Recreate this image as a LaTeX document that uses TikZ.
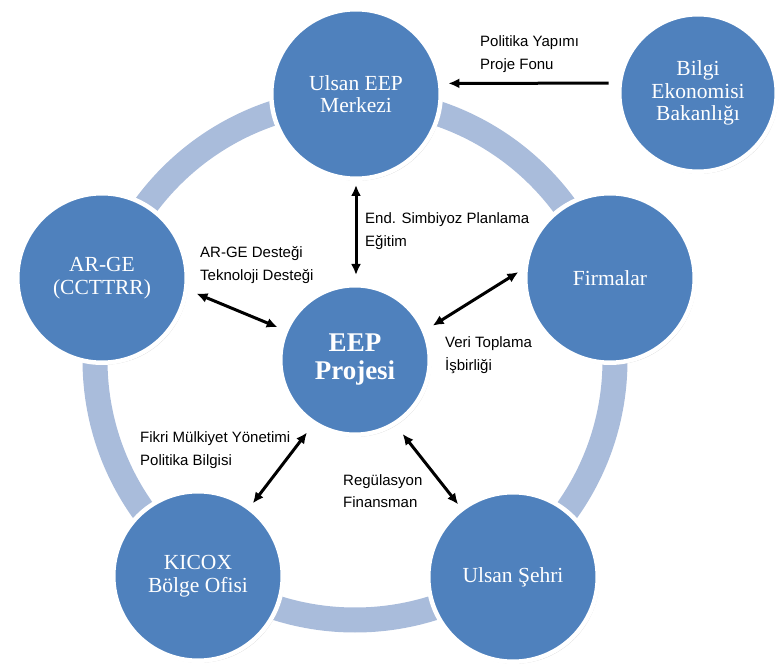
\documentclass[tikz,border=0pt]{standalone}
\usepackage{fontspec}
\setmainfont{Liberation Serif}
\newfontfamily\labelfont{Liberation Sans}
\usetikzlibrary{arrows.meta}
\usetikzlibrary{shadows}

\definecolor{nodeblue}{HTML}{4F81BD}
\definecolor{ringblue}{HTML}{A9BCDB}

\begin{document}
\begin{tikzpicture}[x=1pt,y=-1pt,
    unit/.style={circle,fill=nodeblue,draw=white,line width=4.5pt,minimum size=169.5pt,
      inner sep=0pt,align=center,text=white,font=\fontsize{21.5}{22.5}\selectfont,
      drop shadow={shadow xshift=1.5pt,shadow yshift=-2pt,opacity=0.35}},
    link/.style={{Latex[length=11pt,width=10pt]}-{Latex[length=11pt,width=10pt]},line width=3pt},
    flow/.style={-{Latex[length=11pt,width=10pt]},line width=3pt},
    note/.style={anchor=west,align=left,inner sep=0pt,font=\labelfont\fontsize{15}{22.5}\selectfont}]
    \useasboundingbox (0,0) rectangle (780,668);

    % 绘制圆环
    \draw[ringblue,line width=25pt] (355,360) circle (260);

    % 各单位
    \node[unit] (merkez) at (356,94) {Ulsan EEP\\Merkezi};
    \node[unit,minimum size=157.5pt] (bilgi) at (698,93) {Bilgi\\Ekonomisi\\Bakanlığı};
    \node[unit] (arge) at (102,278) {AR-GE\\(CCTTRR)};
    \node[unit] (firma) at (610,278) {Firmalar};
    \node[unit,minimum size=149.5pt,font=\bfseries\fontsize{27}{28}\selectfont] (eep) at (355,360) {EEP\\Projesi};
    \node[unit] (kicox) at (198,576) {KICOX\\Bölge Ofisi};
    \node[unit] (sehir) at (513,577) {Ulsan Şehri};

    % 箭头
    \draw[flow,shorten <=9pt,shorten >=6pt] (bilgi.173) -- (merkez.7);
    \draw[link,shorten <=4pt,shorten >=8pt] (merkez.south) -- (merkez.south |- eep.north);
    \draw[link,shorten <=9pt,shorten >=7pt] (arge.-8) -- (eep.157);
    \draw[link,shorten <=6pt,shorten >=8pt] (firma.174) -- (eep.23);
    \draw[link,shorten <=4pt,shorten >=10pt] (kicox.53) -- (eep.237);
    \draw[link,shorten <=4pt,shorten >=11pt] (sehir.127) -- (eep.-58);

    % 说明文字
    \node[note] (polnote) at (480,54) {Politika Yapımı\\Proje Fonu};
    \node[note] (endnote) at (365,231) {End. Simbiyoz Planlama\\Eğitim};
    \node[note] (argenote) at (200,265) {AR-GE Desteği\\Teknoloji Desteği};
    \node[note] (verinote) at (445,355) {Veri Toplama\\İşbirliği};
    \node[note] (fikrinote) at (140,450) {Fikri Mülkiyet Yönetimi\\Politika Bilgisi};
    \node[note] (regnote) at (343,491) {Regülasyon\\Finansman};
\end{tikzpicture}
\end{document}
